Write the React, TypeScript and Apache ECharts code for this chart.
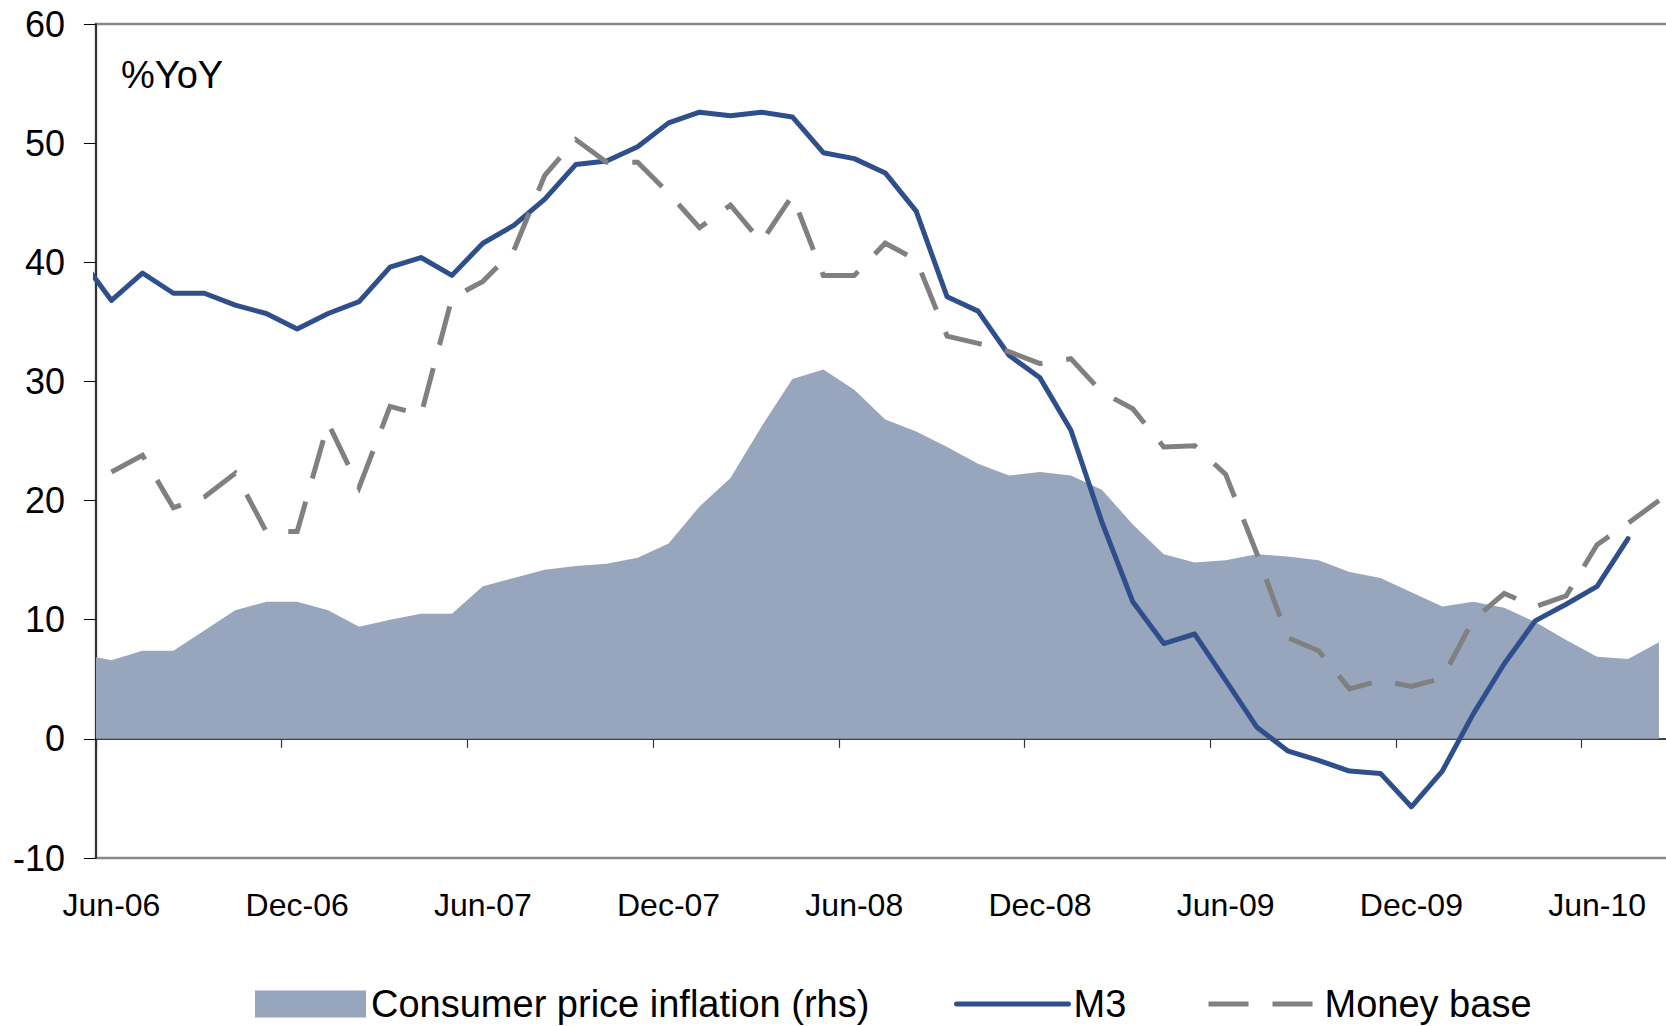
import React, { useEffect, useRef } from 'react';
import * as echarts from 'echarts';

// Category labels (one per month) shown on the axis: Jun-06 .. Aug-10
const months = [
  'Jun-06', 'Jul-06', 'Aug-06', 'Sep-06', 'Oct-06', 'Nov-06', 'Dec-06',
  'Jan-07', 'Feb-07', 'Mar-07', 'Apr-07', 'May-07', 'Jun-07', 'Jul-07', 'Aug-07', 'Sep-07', 'Oct-07', 'Nov-07', 'Dec-07',
  'Jan-08', 'Feb-08', 'Mar-08', 'Apr-08', 'May-08', 'Jun-08', 'Jul-08', 'Aug-08', 'Sep-08', 'Oct-08', 'Nov-08', 'Dec-08',
  'Jan-09', 'Feb-09', 'Mar-09', 'Apr-09', 'May-09', 'Jun-09', 'Jul-09', 'Aug-09', 'Sep-09', 'Oct-09', 'Nov-09', 'Dec-09',
  'Jan-10', 'Feb-10', 'Mar-10', 'Apr-10', 'May-10', 'Jun-10', 'Jul-10', 'Aug-10',
];

// Series values start one month earlier (May-06), which is clipped at the left axis.
const cpi = [
  7.1,
  6.6, 7.4, 7.4, 9.1, 10.8, 11.5, 11.5,
  10.8, 9.4, 10.0, 10.5, 10.5, 12.8, 13.5, 14.2, 14.5, 14.7, 15.2, 16.4,
  19.5, 21.9, 26.2, 30.2, 31.0, 29.3, 26.8, 25.8, 24.5, 23.1, 22.1, 22.4,
  22.1, 20.9, 18.0, 15.5, 14.8, 15.0, 15.5, 15.3, 15.0, 14.0, 13.5, 12.3,
  11.1, 11.5, 11.0, 9.8, 8.3, 6.9, 6.7, 8.1,
];

const m3 = [
  40.3,
  36.8, 39.1, 37.4, 37.4, 36.4, 35.7, 34.4,
  35.7, 36.7, 39.6, 40.4, 38.9, 41.6, 43.1, 45.3, 48.2, 48.5, 49.7, 51.7,
  52.6, 52.3, 52.6, 52.2, 49.2, 48.7, 47.5, 44.3, 37.1, 35.9, 32.2, 30.3,
  25.9, 18.2, 11.5, 8.0, 8.8, 4.9, 1.0, -1.0, -1.8, -2.7, -2.9, -5.7,
  -2.7, 2.1, 6.3, 9.9, 11.3, 12.8, 16.8, null,
];

const moneyBase = [
  null,
  22.4, 23.8, 19.4, 20.3, 22.3, 17.4, 17.4,
  26.5, 21.1, 27.9, 27.2, 37.0, 38.4, 41.0, 47.3, 50.3, 48.4, 48.4, 45.8,
  42.9, 44.8, 41.7, 45.6, 38.9, 38.9, 41.6, 40.2, 33.8, 33.2, 32.5, 31.5,
  31.9, 29.1, 27.7, 24.5, 24.6, 22.2, 15.6, 8.5, 7.4, 4.2, 4.9, 4.4,
  5.1, 10.0, 12.2, 11.1, 12.0, 16.3, 18.1, 20.0,
];

const yTicks = { min: -10, max: 60, step: 10 };

const FONT = '"Liberation Sans", Arial, Helvetica, sans-serif';
const CPI_COLOR = '#97A6BC';
const M3_COLOR = '#2F4F8C';
const MB_COLOR = '#808080';

const toXY = (arr: (number | null)[]) =>
  arr.map((v, k) => [k - 0.5, v] as [number, number | null]).filter((d) => d[1] !== null);

export default function App() {
  const ref = useRef<HTMLDivElement>(null);

  useEffect(() => {
    if (!ref.current) return;
    const chart = echarts.init(ref.current, undefined, { renderer: 'svg' });
    const legendText = { fontSize: 38, color: '#000', fontFamily: FONT };
    chart.setOption({
      animation: false,
      backgroundColor: '#fff',
      textStyle: { fontFamily: FONT },
      grid: {
        left: 96,
        top: 24,
        width: 51 * 30.95,
        height: 834,
        show: true,
        borderColor: '#888888',
        borderWidth: 2.5,
        backgroundColor: 'transparent',
      },
      xAxis: [
        {
          type: 'value',
          min: 0,
          max: months.length,
          interval: 6,
          position: 'bottom',
          axisLine: { show: true, onZero: true, lineStyle: { color: '#000', width: 1.5 } },
          axisTick: { show: true, length: 9, lineStyle: { color: '#333', width: 1.2 } },
          axisLabel: { show: false },
          splitLine: { show: false },
        },
        {
          type: 'category',
          data: months,
          boundaryGap: true,
          position: 'bottom',
          axisLine: { show: false, onZero: false },
          axisTick: { show: false },
          axisLabel: { interval: 5, fontSize: 32, color: '#000', margin: 31, fontFamily: FONT },
          splitLine: { show: false },
        },
      ],
      yAxis: {
        type: 'value',
        min: yTicks.min,
        max: yTicks.max,
        interval: yTicks.step,
        axisLine: { show: true, onZero: false, lineStyle: { color: '#333', width: 2 } },
        axisTick: { show: true, length: 12, lineStyle: { color: '#000', width: 1 } },
        axisLabel: { fontSize: 36, color: '#000', margin: 31, fontFamily: FONT },
        splitLine: { show: false },
      },
      legend: [
        {
          data: [{ name: 'Consumer price inflation (rhs)', icon: 'rect' }],
          left: 255,
          top: 985,
          padding: 0,
          itemWidth: 111,
          itemHeight: 27,
          textStyle: { ...legendText, padding: [0, 0, 10, 0] },
        },
        {
          data: ['M3'],
          left: 954,
          top: 985,
          padding: 0,
          itemWidth: 112,
          itemHeight: 27,
          lineStyle: { width: 5, cap: 'round' },
          itemStyle: { opacity: 0 },
          textStyle: legendText,
        },
        {
          data: ['Money base'],
          left: 1206,
          top: 985,
          padding: 0,
          itemWidth: 111,
          itemHeight: 27,
          lineStyle: { width: 5 },
          itemStyle: { opacity: 0 },
          textStyle: legendText,
        },
      ],
      graphic: [
        {
          type: 'text',
          left: 121,
          top: 56,
          style: { text: '%YoY', font: `38px ${FONT}`, fill: '#000' },
        },
      ],
      series: [
        {
          name: 'Consumer price inflation (rhs)',
          type: 'line',
          xAxisIndex: 0,
          data: toXY(cpi),
          symbol: 'none',
          lineStyle: { width: 0, color: CPI_COLOR },
          itemStyle: { color: CPI_COLOR },
          areaStyle: { color: CPI_COLOR, opacity: 1 },
          z: 1,
        },
        {
          name: 'M3',
          type: 'line',
          xAxisIndex: 0,
          data: toXY(m3),
          symbol: 'none',
          lineStyle: { color: M3_COLOR, width: 5, join: 'round', cap: 'round' },
          itemStyle: { color: M3_COLOR },
          z: 2,
        },
        {
          name: 'Money base',
          type: 'line',
          xAxisIndex: 0,
          data: toXY(moneyBase),
          symbol: 'none',
          lineStyle: { color: MB_COLOR, width: 5, type: [40, 24], join: 'miter' },
          itemStyle: { color: MB_COLOR },
          z: 3,
        },
      ],
    });
    return () => chart.dispose();
  }, []);

  return (
    <div
      style={{
        position: 'absolute',
        left: 0,
        top: 0,
        width: 1666,
        height: 1026,
        overflow: 'hidden',
        background: '#fff',
      }}
    >
      <div ref={ref} style={{ width: 1720, height: 1026 }} />
    </div>
  );
}
